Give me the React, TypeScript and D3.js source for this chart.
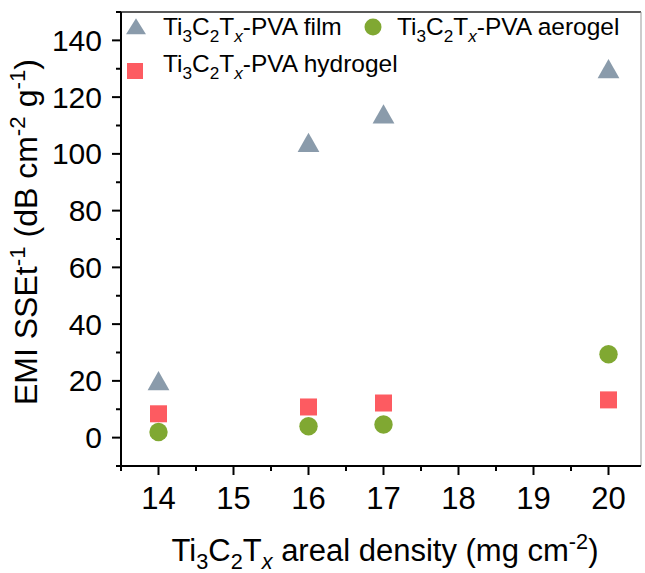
import React, { useEffect, useRef } from 'react'
import * as d3 from 'd3'

const densities = [14, 16, 17, 20]
const filmValues = [20, 104, 114, 130]
const aerogelValues = [2, 4, 4.6, 29.4]
const hydrogelValues = [8.4, 10.8, 12.2, 13.3]
const xTicks = [14, 15, 16, 17, 18, 19, 20]
const yTicks = [0, 20, 40, 60, 80, 100, 120, 140]

const FILM = '#8a9bab'
const AEROGEL = '#80a832'
const HYDROGEL = '#fd5b61'

export default function App() {
  const ref = useRef<SVGSVGElement>(null)

  useEffect(() => {
    if (!ref.current) return
    const svg = d3.select(ref.current)
    svg.selectAll('*').remove()

    const left = 121
    const top = 12
    const bottom = 466
    const rightFrame = 641

    const x = d3.scaleLinear().domain([13.5, 20.5]).range([left, 646])
    const y = d3.scaleLinear().domain([-10, 150]).range([bottom, top])

    const font = 'Liberation Sans, Arial, sans-serif'

    // frame: top and right are thin
    svg.append('line')
      .attr('x1', left).attr('x2', rightFrame).attr('y1', top).attr('y2', top)
      .attr('stroke', '#222').attr('stroke-width', 1.5)
    svg.append('line')
      .attr('x1', rightFrame).attr('x2', rightFrame).attr('y1', top).attr('y2', bottom)
      .attr('stroke', '#999').attr('stroke-width', 1)

    // y axis
    const yMinor = d3.range(-10, 151, 10).filter(v => v % 20 !== 0)
    const yAxis = svg.append('g')
    yAxis.selectAll('line.major').data(yTicks).enter().append('line')
      .attr('x1', left - 9).attr('x2', left).attr('y1', d => y(d)).attr('y2', d => y(d))
      .attr('stroke', '#000').attr('stroke-width', 2)
    yAxis.selectAll('line.minor').data(yMinor).enter().append('line')
      .attr('x1', left - 5).attr('x2', left).attr('y1', d => y(d)).attr('y2', d => y(d))
      .attr('stroke', '#000').attr('stroke-width', 2)
    yAxis.selectAll('text').data(yTicks).enter().append('text')
      .attr('x', left - 19).attr('y', d => y(d) + 10.5)
      .attr('text-anchor', 'end')
      .style('font-family', font).style('font-size', '30px').style('fill', '#000')
      .text(d => d)
    yAxis.append('line')
      .attr('x1', left).attr('x2', left).attr('y1', top).attr('y2', bottom + 1)
      .attr('stroke', '#000').attr('stroke-width', 2)

    // x axis
    const xMinor = d3.range(13.5, 20.6, 1)
    const xAxis = svg.append('g')
    xAxis.selectAll('line.major').data(xTicks).enter().append('line')
      .attr('x1', d => x(d)).attr('x2', d => x(d)).attr('y1', bottom).attr('y2', bottom + 9)
      .attr('stroke', '#000').attr('stroke-width', 2)
    xAxis.selectAll('line.minor').data(xMinor.filter(v => x(v) < rightFrame)).enter().append('line')
      .attr('x1', d => x(d)).attr('x2', d => x(d)).attr('y1', bottom).attr('y2', bottom + 5)
      .attr('stroke', '#000').attr('stroke-width', 2)
    xAxis.selectAll('text').data(xTicks).enter().append('text')
      .attr('x', d => x(d)).attr('y', bottom + 43)
      .attr('text-anchor', 'middle')
      .style('font-family', font).style('font-size', '31px').style('fill', '#000')
      .text(d => d)
    xAxis.append('line')
      .attr('x1', left - 1).attr('x2', rightFrame).attr('y1', bottom).attr('y2', bottom)
      .attr('stroke', '#000').attr('stroke-width', 2)

    // Ti3C2Tx with subscripts
    const formula = (t: d3.Selection<SVGTextElement, unknown, null, undefined>, sub: number) => {
      t.append('tspan').text('Ti')
      t.append('tspan').attr('dy', sub).style('font-size', '0.7em').text('3')
      t.append('tspan').attr('dy', -sub).text('C')
      t.append('tspan').attr('dy', sub).style('font-size', '0.7em').text('2')
      t.append('tspan').attr('dy', -sub).text('T')
      t.append('tspan').attr('dy', sub).style('font-size', '0.7em').style('font-style', 'italic').text('x')
    }

    // x title
    const xt = svg.append('text')
      .attr('x', 385).attr('y', 561)
      .attr('text-anchor', 'middle')
      .style('font-family', font).style('font-size', '31px').style('fill', '#000')
    formula(xt, 8)
    xt.append('tspan').attr('dy', -8).text(' areal density (mg cm')
    xt.append('tspan').attr('dy', -12).style('font-size', '0.7em').text('-2')
    xt.append('tspan').attr('dy', 12).text(')')

    // y title
    const yt = svg.append('text')
      .attr('transform', 'translate(37, 232) rotate(-90)')
      .attr('text-anchor', 'middle')
      .style('font-family', font).style('font-size', '32px').style('fill', '#000')
    yt.append('tspan').text('EMI SSEt')
    yt.append('tspan').attr('dy', -12).style('font-size', '0.7em').text('-1')
    yt.append('tspan').attr('dy', 12).text('  (dB cm')
    yt.append('tspan').attr('dy', -12).style('font-size', '0.7em').text('-2')
    yt.append('tspan').attr('dy', 12).text(' g')
    yt.append('tspan').attr('dy', -12).style('font-size', '0.7em').text('-1')
    yt.append('tspan').attr('dy', 12).text(')')

    // markers
    const tri = d3.symbol().type(d3.symbolTriangle).size(190)
    svg.append('g').selectAll('path').data(densities).enter().append('path')
      .attr('d', tri as any)
      .attr('transform', (d, i) => `translate(${x(d)}, ${y(filmValues[i]) + 3}) scale(1.04, 1.06)`)
      .attr('fill', FILM)

    svg.append('g').selectAll('rect').data(densities).enter().append('rect')
      .attr('x', d => x(d) - 8.5).attr('y', (d, i) => y(hydrogelValues[i]) - 8.5)
      .attr('width', 17).attr('height', 17)
      .attr('fill', HYDROGEL)

    svg.append('g').selectAll('circle').data(densities).enter().append('circle')
      .attr('cx', d => x(d)).attr('cy', (d, i) => y(aerogelValues[i]))
      .attr('r', 9.2)
      .attr('fill', AEROGEL)

    // legend
    const legend = svg.append('g')
    legend.append('path')
      .attr('d', tri as any)
      .attr('transform', 'translate(136, 29) scale(0.95, 0.88)')
      .attr('fill', FILM)
    const l1 = legend.append('text').attr('x', 163).attr('y', 35)
      .style('font-family', font).style('font-size', '24.5px').style('fill', '#000')
    formula(l1, 7)
    l1.append('tspan').attr('dy', -7).text('-PVA film')

    legend.append('circle').attr('cx', 373).attr('cy', 27).attr('r', 8.5).attr('fill', AEROGEL)
    const l2 = legend.append('text').attr('x', 397).attr('y', 35)
      .style('font-family', font).style('font-size', '24.5px').style('fill', '#000')
    formula(l2, 7)
    l2.append('tspan').attr('dy', -7).text('-PVA aerogel')

    legend.append('rect').attr('x', 127).attr('y', 63).attr('width', 16).attr('height', 16).attr('fill', HYDROGEL)
    const l3 = legend.append('text').attr('x', 163).attr('y', 72)
      .style('font-family', font).style('font-size', '24.5px').style('fill', '#000')
    formula(l3, 7)
    l3.append('tspan').attr('dy', -7).text('-PVA hydrogel')
  }, [])

  return (
    <svg
      ref={ref}
      width={645}
      height={573}
      style={{ position: 'absolute', left: 0, top: 0, background: '#fff' }}
    />
  )
}
